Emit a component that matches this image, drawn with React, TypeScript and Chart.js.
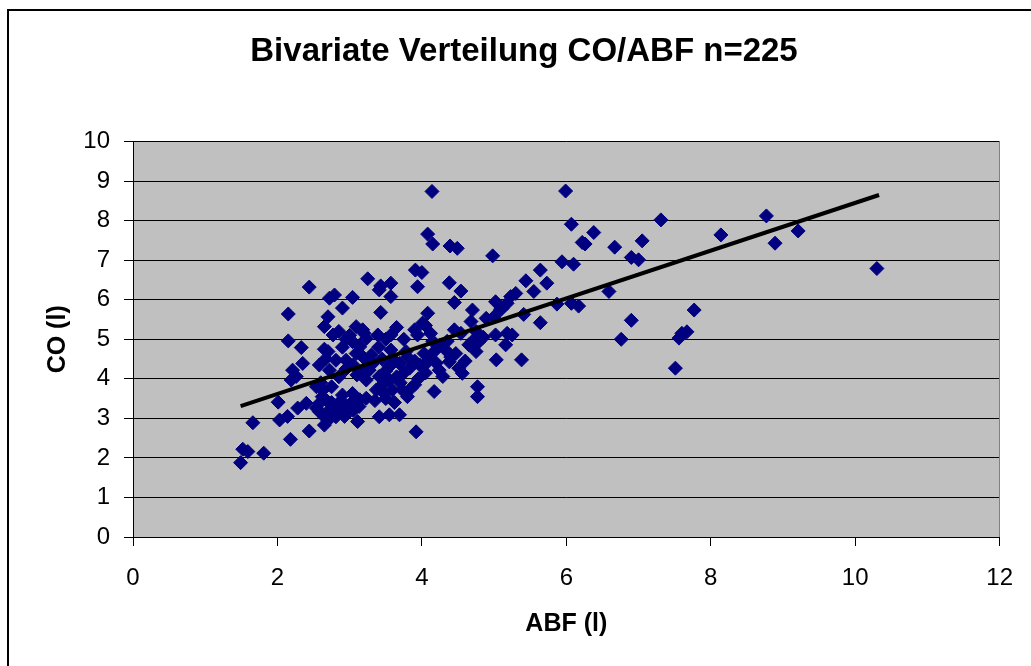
import React, { useEffect, useRef } from "react";
import { Chart, registerables } from "chart.js";

Chart.register(...registerables);

// ABF (l) values of the 225 points
const abf = [
  2.44, 2.72, 2.79, 3.04, 2.90, 2.15, 2.70, 2.65, 2.77, 2.15,
  2.33, 2.70, 2.35, 2.21, 2.19, 2.26, 2.01, 2.28, 2.40, 2.03,
  2.14, 1.66, 2.18, 2.44, 1.52, 1.59, 1.81, 1.49, 2.65, 3.11,
  3.09, 3.18, 3.23, 3.04, 3.14, 3.09, 2.95, 2.81, 2.67, 2.58,
  2.72, 3.23, 3.18, 2.54, 2.63, 2.90, 3.04, 3.14, 3.23, 2.58,
  2.67, 2.58, 2.72, 2.65, 2.81, 2.95, 2.54, 2.79, 4.14, 4.08,
  4.15, 4.39, 4.49, 4.98, 3.25, 3.91, 4.00, 4.38, 3.43, 3.57,
  3.94, 4.54, 5.99, 6.07, 6.38, 6.22, 6.26, 6.67, 7.05, 7.31,
  8.14, 6.90, 7.00, 5.94, 6.10, 5.64, 5.44, 5.73, 5.55, 5.30,
  5.23, 6.59, 5.09, 5.41, 5.87, 6.07, 6.17, 5.64, 6.90, 7.77,
  6.76, 7.60, 7.56, 7.67, 5.18, 5.25, 5.16, 5.38, 7.51, 5.03,
  8.77, 8.89, 9.21, 10.30, 3.41, 3.57, 4.45, 4.70, 5.02, 5.11,
  5.18, 3.43, 4.08, 4.01, 4.68, 4.89, 5.00, 3.39, 3.57, 3.90,
  3.94, 4.12, 4.45, 4.54, 4.75, 5.02, 4.79, 4.65, 3.57, 3.78,
  4.03, 4.17, 4.33, 4.47, 4.75, 3.18, 3.32, 3.27, 3.55, 3.69,
  3.83, 3.97, 4.06, 4.24, 4.38, 4.56, 4.51, 4.29, 4.17, 4.77,
  4.77, 3.23, 3.41, 3.55, 3.37, 3.48, 3.59, 3.73, 3.85, 3.13,
  3.41, 3.55, 3.69, 3.92, 2.62, 2.75, 2.85, 2.70, 2.88, 3.00,
  3.05, 2.93, 2.60, 2.75, 2.85, 2.95, 3.05, 3.10, 2.65, 2.90,
  3.00, 2.85, 2.95, 3.20, 3.30, 3.40, 3.45, 3.50, 3.60, 3.65,
  3.75, 3.80, 3.90, 3.95, 3.70, 3.45, 3.35, 3.50, 3.62, 3.80,
  3.90, 4.05, 4.10, 4.20, 4.25, 4.35, 4.40, 4.60, 4.70, 4.85,
  4.15, 4.05, 3.75, 3.65, 3.50,
];

// CO (l) values of the 225 points
const co = [
  6.32, 6.04, 6.12, 6.06, 5.79, 5.64, 5.57, 5.32, 5.11, 4.96,
  4.79, 4.69, 4.39, 4.22, 3.97, 4.06, 3.41, 3.26, 3.38, 2.96,
  3.05, 2.89, 2.47, 2.68, 2.22, 2.16, 2.12, 1.88, 2.83, 2.92,
  5.32, 5.24, 5.02, 4.94, 4.81, 4.64, 4.47, 4.47, 4.51, 4.35,
  4.22, 4.47, 4.22, 3.80, 3.72, 3.59, 3.63, 3.47, 3.51, 3.38,
  3.47, 3.17, 3.21, 3.04, 3.04, 3.17, 3.26, 3.13, 8.74, 7.66,
  7.41, 7.36, 7.30, 7.11, 6.53, 6.75, 6.69, 6.43, 6.35, 6.42,
  6.33, 6.22, 8.75, 7.91, 7.70, 7.45, 7.41, 7.33, 7.49, 8.02,
  7.64, 7.07, 7.01, 6.96, 6.90, 6.75, 6.48, 6.42, 6.21, 6.16,
  6.08, 6.21, 5.76, 5.63, 5.89, 5.91, 5.84, 5.42, 5.48, 5.74,
  5.00, 5.15, 5.03, 5.19, 5.15, 5.11, 4.86, 4.48, 4.27, 4.48,
  8.12, 7.43, 7.74, 6.79, 6.25, 6.08, 5.93, 5.74, 5.95, 5.78,
  5.91, 5.68, 5.66, 5.41, 5.45, 5.53, 5.57, 5.11, 5.11, 5.24,
  5.11, 5.15, 5.24, 5.15, 5.20, 5.11, 4.94, 4.86, 4.73, 4.69,
  4.64, 4.69, 4.73, 4.64, 4.69, 4.56, 4.39, 4.22, 4.31, 4.39,
  4.27, 4.35, 4.39, 4.22, 4.43, 4.14, 4.27, 4.06, 3.68, 3.80,
  3.55, 3.97, 4.06, 3.97, 3.72, 3.63, 3.72, 3.72, 3.76, 3.30,
  3.04, 3.09, 3.09, 2.66, 3.55, 3.40, 3.30, 2.95, 3.45, 3.35,
  3.20, 3.05, 3.90, 3.80, 4.05, 4.25, 4.35, 4.10, 4.75, 4.80,
  5.10, 5.20, 5.00, 5.15, 4.60, 4.80, 4.50, 4.20, 4.50, 4.05,
  4.15, 4.55, 4.45, 4.00, 3.90, 3.85, 3.45, 3.50, 3.40, 3.55,
  3.85, 4.15, 4.50, 4.40, 4.85, 4.95, 4.55, 4.45, 4.95, 5.05,
  4.95, 5.35, 5.00, 5.30, 5.00,
];

// linear trend line end points
const trendAbf = [1.49, 10.33];
const trendCo = [3.31, 8.65];

const xTickValues = [0, 2, 4, 6, 8, 10, 12];
const yTickValues = [0, 1, 2, 3, 4, 5, 6, 7, 8, 9, 10];

const FONT = "'Liberation Sans', Arial, Helvetica, sans-serif";

export default function App() {
  const ref = useRef<HTMLCanvasElement | null>(null);

  useEffect(() => {
    if (!ref.current) return;
    const points = abf.map((x, i) => ({ x, y: co[i] }));
    const trend = trendAbf.map((x, i) => ({ x, y: trendCo[i] }));

    const plotBg = {
      id: "plotBg",
      beforeDraw(chart: any) {
        const { ctx, chartArea: a } = chart;
        ctx.save();
        ctx.fillStyle = "#C0C0C0";
        ctx.fillRect(a.left, a.top, a.right - a.left, a.bottom - a.top);
        ctx.restore();
      },
      beforeDatasetsDraw(chart: any) {
        const { ctx, chartArea: a } = chart;
        ctx.save();
        ctx.strokeStyle = "#808080";
        ctx.lineWidth = 1;
        ctx.beginPath();
        ctx.moveTo(Math.round(a.right) - 0.5, a.top);
        ctx.lineTo(Math.round(a.right) - 0.5, a.bottom);
        ctx.stroke();
        ctx.restore();
      },
    };

    const chart = new Chart(ref.current, {
      type: "scatter",
      data: {
        datasets: [
          {
            type: "line",
            data: trend,
            borderColor: "#000000",
            borderWidth: 4,
            pointRadius: 0,
            fill: false,
            order: 0,
          } as any,
          {
            data: points,
            pointStyle: "rectRot",
            pointRadius: 7,
            backgroundColor: "#000080",
            borderColor: "#000080",
            borderWidth: 1,
            order: 1,
          },
        ],
      },
      options: {
        animation: false,
        responsive: false,
        events: [],
        layout: { padding: { left: 46, right: 29, top: 0, bottom: 0 } },
        plugins: {
          legend: { display: false },
          tooltip: { enabled: false },
          title: {
            display: true,
            text: "Bivariate Verteilung CO/ABF n=225",
            color: "#000",
            font: { family: FONT, size: 33, weight: "bold" },
            padding: { top: 32, bottom: 70 },
          },
        },
        scales: {
          x: {
            type: "linear",
            min: 0,
            max: 12,
            afterBuildTicks: (s: any) => {
              s.ticks = xTickValues.map((v) => ({ value: v }));
            },
            afterFit: (s: any) => {
              s.height = 129;
            },
            ticks: {
              color: "#000",
              font: { family: FONT, size: 24 },
              padding: 18,
              maxRotation: 0,
            },
            grid: {
              drawOnChartArea: false,
              drawTicks: true,
              tickLength: 9,
              color: "#000",
            },
            border: { display: true, color: "#000", width: 1 },
            title: {
              display: true,
              text: "ABF (l)",
              color: "#000",
              font: { family: FONT, size: 25, weight: "bold" },
              padding: { top: 0, bottom: 27 },
            },
          },
          y: {
            type: "linear",
            min: 0,
            max: 10,
            afterBuildTicks: (s: any) => {
              s.ticks = yTickValues.map((v) => ({ value: v }));
            },
            afterFit: (s: any) => {
              s.width = 87;
            },
            ticks: {
              color: "#000",
              font: { family: FONT, size: 24 },
              padding: 14,
            },
            grid: { color: "#000", tickLength: 9 },
            border: { display: true, color: "#000", width: 1 },
            title: {
              display: true,
              text: "CO (l)",
              color: "#000",
              font: { family: FONT, size: 25, weight: "bold" },
              padding: { top: -3, bottom: 0 },
            },
          },
        },
      } as any,
      plugins: [plotBg],
    });
    return () => chart.destroy();
  }, []);

  return (
    <div
      style={{
        position: "fixed",
        left: 0,
        top: 0,
        width: 1031,
        height: 666,
        overflow: "hidden",
        background: "#fff",
      }}
    >
      <div
        style={{
          position: "absolute",
          left: 7,
          top: 9,
          width: 1200,
          height: 800,
          borderLeft: "2px solid #000",
          borderTop: "2px solid #000",
        }}
      />
      <canvas
        ref={ref}
        width={1031}
        height={666}
        style={{ position: "absolute", left: 0, top: 0, width: 1031, height: 666 }}
      />
    </div>
  );
}
